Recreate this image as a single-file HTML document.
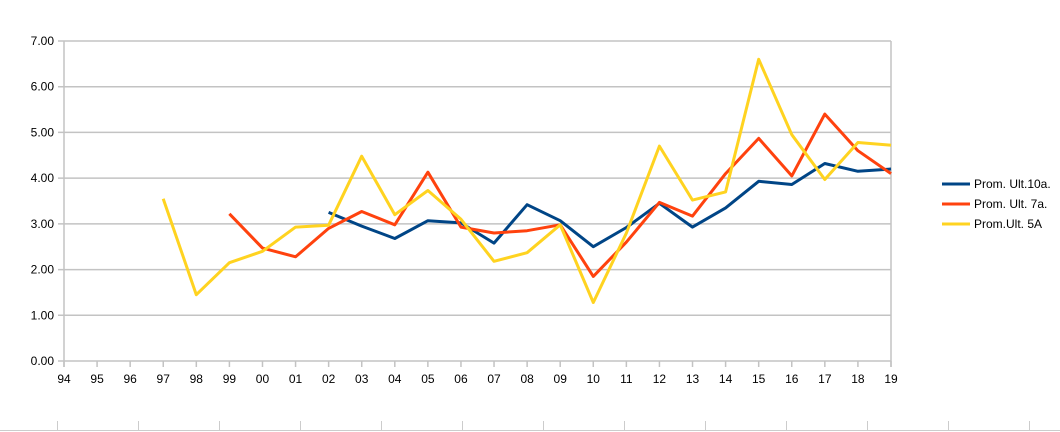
<!DOCTYPE html>
<html><head><meta charset="utf-8"><style>body{margin:0;background:#fff}svg{display:block}text{font-family:"Liberation Sans",sans-serif;fill:#000}</style></head><body>
<svg width="1060" height="432" viewBox="0 0 1060 432" xmlns="http://www.w3.org/2000/svg">
<g stroke="#c3c3c3" stroke-width="1.5" fill="none" id="grid"></g>
<g id="lbl" font-size="12"></g>
<g id="ser" fill="none" stroke-width="3" stroke-linejoin="round"></g>
<g stroke="#ccc" stroke-width="1">
<line x1="0" y1="430.5" x2="1060" y2="430.5"/>
</g>
<g id="bt" stroke="#ccc" stroke-width="1"></g>
<g font-size="12">
<line x1="942" y1="184" x2="970" y2="184" stroke="#004586" stroke-width="3"/><text x="974" y="188">Prom. Ult.10a.</text>
<line x1="942" y1="204" x2="970" y2="204" stroke="#ff420e" stroke-width="3"/><text x="974" y="208">Prom. Ult. 7a.</text>
<line x1="942" y1="224" x2="970" y2="224" stroke="#ffd320" stroke-width="3"/><text x="974" y="228">Prom.Ult. 5A</text>
</g>
<script>
var ns="http://www.w3.org/2000/svg";
function el(p,t,a,txt){var e=document.createElementNS(ns,t);for(var k in a)e.setAttribute(k,a[k]);if(txt!==undefined)e.textContent=txt;document.getElementById(p).appendChild(e);}
var X0=64,X1=891,Y0=361,Y7=41;
function X(i){return X0+i*(X1-X0)/25}
function Y(v){return Y0-v*(Y0-Y7)/7}
for(var v=0;v<=7;v++){var y=Y(v);el("grid","line",{x1:58,y1:y,x2:X1,y2:y});el("lbl","text",{x:54,y:y+4,"text-anchor":"end"},v.toFixed(2));}
el("grid","line",{x1:X0,y1:Y7,x2:X0,y2:Y0+6});el("grid","line",{x1:X1,y1:Y7,x2:X1,y2:Y0+6});
var labs=["94","95","96","97","98","99","00","01","02","03","04","05","06","07","08","09","10","11","12","13","14","15","16","17","18","19"];
for(var i=0;i<26;i++){el("grid","line",{x1:X(i),y1:Y0,x2:X(i),y2:Y0+6});el("lbl","text",{x:X(i),y:383,"text-anchor":"middle"},labs[i]);}
for(var x=56.5;x<1060;x+=81)el("bt","line",{x1:Math.round(x)+.5,y1:421,x2:Math.round(x)+.5,y2:430});
function ser(start,vals,c){var p=vals.map(function(v,j){return X(start+j).toFixed(1)+","+Y(v).toFixed(1)}).join(" ");el("ser","polyline",{points:p,stroke:c});}
ser(8,[3.25,2.95,2.68,3.07,3.02,2.58,3.42,3.07,2.5,2.92,3.45,2.93,3.35,3.93,3.86,4.32,4.15,4.2],"#004586");
ser(5,[3.22,2.47,2.28,2.9,3.27,2.98,4.13,2.93,2.8,2.85,2.98,1.85,2.6,3.47,3.17,4.1,4.87,4.05,5.4,4.6,4.1],"#ff420e");
ser(3,[3.55,1.45,2.15,2.4,2.93,2.97,4.48,3.2,3.73,3.1,2.18,2.37,2.98,1.28,2.8,4.7,3.52,3.7,6.6,4.95,3.97,4.78,4.72],"#ffd320");
</script>
</svg>
</body></html>
